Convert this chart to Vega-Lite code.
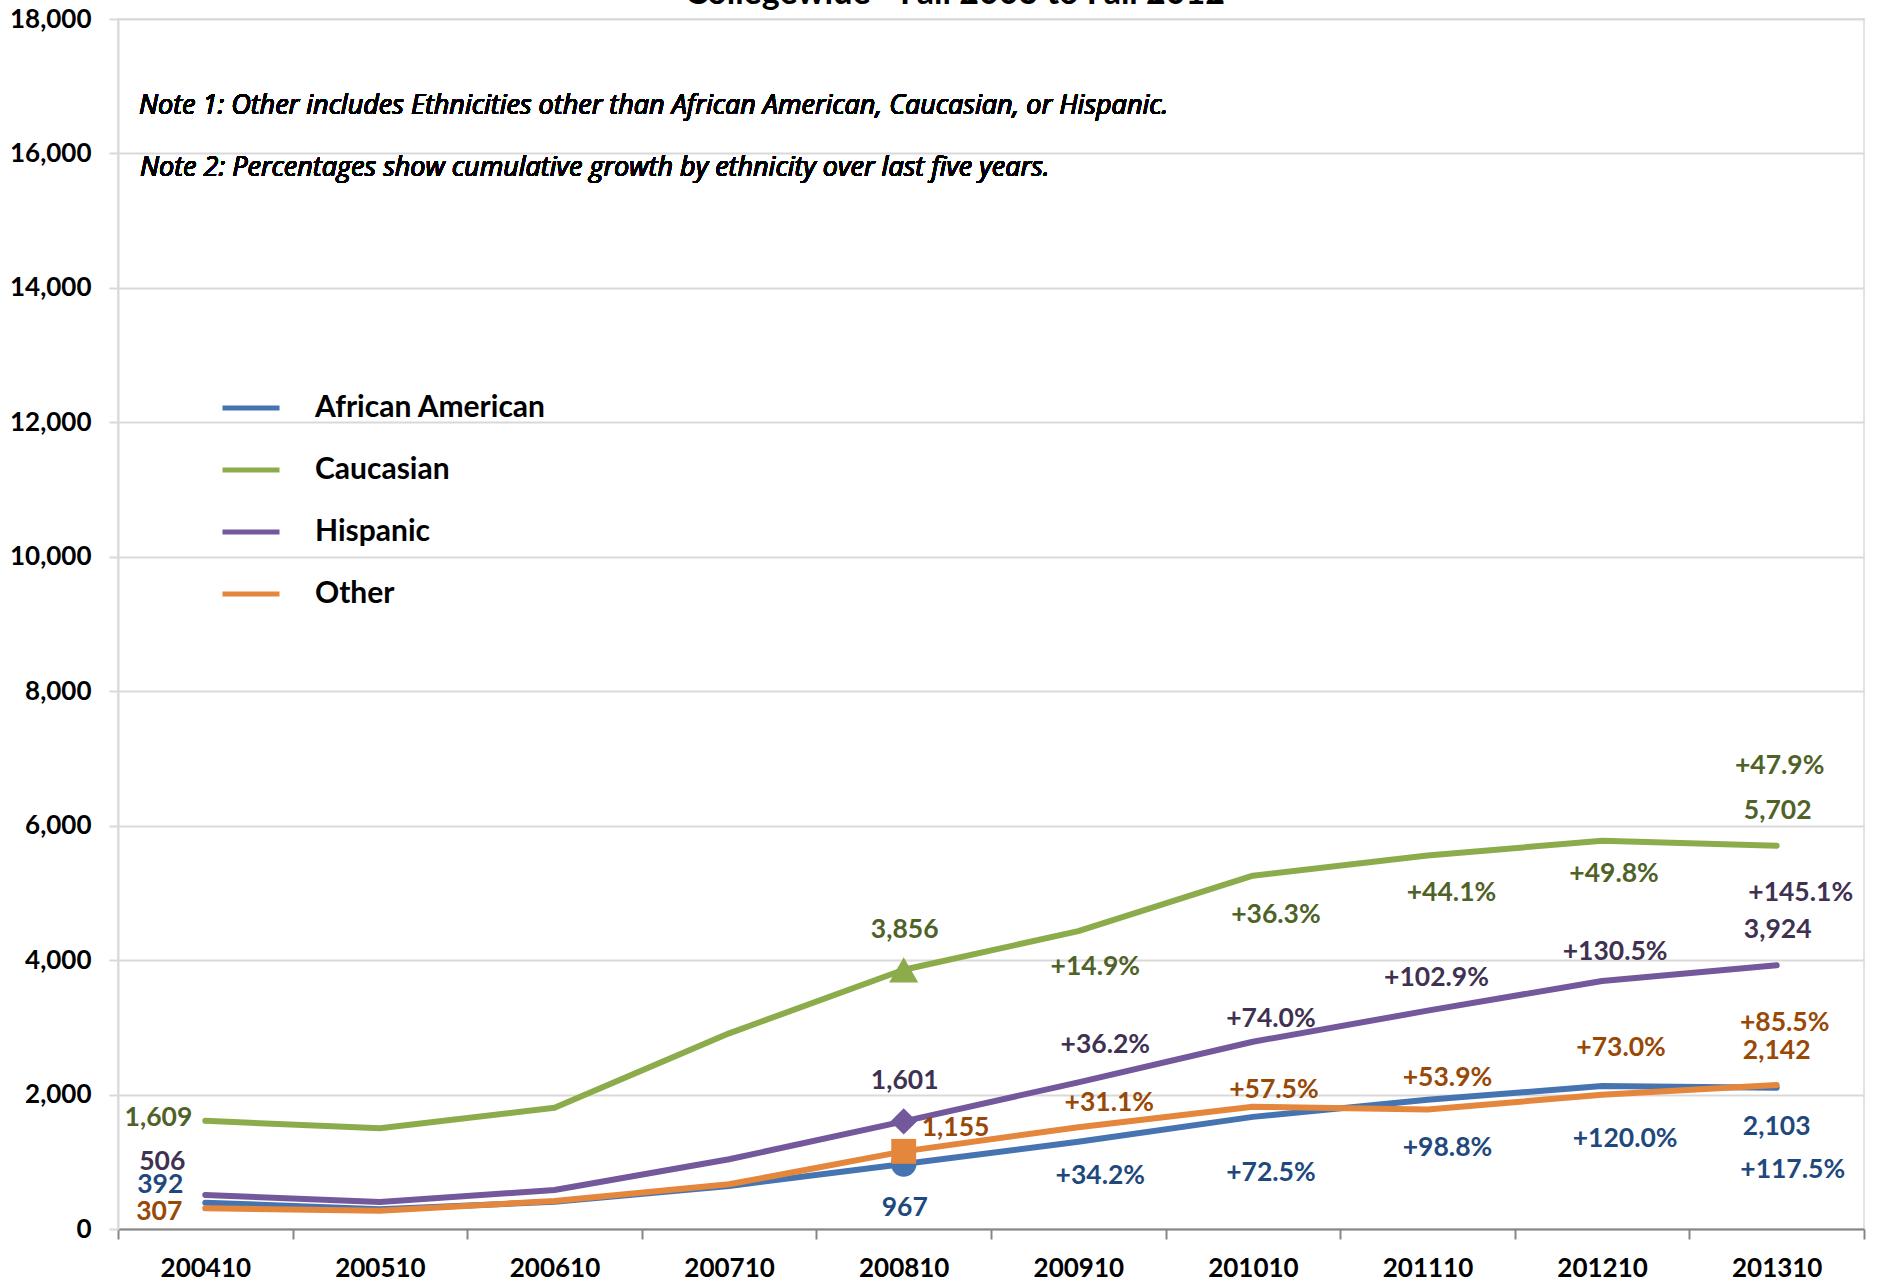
{
  "$schema": "https://vega.github.io/schema/vega-lite/v6.json",
  "width": 1746,
  "height": 1210,
  "autosize": {"type": "none"},
  "padding": {"left": 118, "top": 19, "right": 32, "bottom": 56},
  "background": "white",
  "title": {"text": "Collegewide - Fall 2003 to Fall 2012", "font": "Lato", "fontSize": 34, "fontWeight": "bold", "color": "black", "anchor": "middle", "frame": "group", "dx": -36, "dy": 32, "offset": 0, "baseline": "alphabetic"},
  "data": {"values": [
    {"period": "200410", "eth": "African American", "value": 392},
    {"period": "200510", "eth": "African American", "value": 293},
    {"period": "200610", "eth": "African American", "value": 406},
    {"period": "200710", "eth": "African American", "value": 640},
    {"period": "200810", "eth": "African American", "value": 967},
    {"period": "200910", "eth": "African American", "value": 1298, "pct": "+34.2%"},
    {"period": "201010", "eth": "African American", "value": 1668, "pct": "+72.5%"},
    {"period": "201110", "eth": "African American", "value": 1922, "pct": "+98.8%"},
    {"period": "201210", "eth": "African American", "value": 2127, "pct": "+120.0%"},
    {"period": "201310", "eth": "African American", "value": 2103, "pct": "+117.5%"},
    {"period": "200410", "eth": "Caucasian", "value": 1609},
    {"period": "200510", "eth": "Caucasian", "value": 1498},
    {"period": "200610", "eth": "Caucasian", "value": 1805},
    {"period": "200710", "eth": "Caucasian", "value": 2911},
    {"period": "200810", "eth": "Caucasian", "value": 3856},
    {"period": "200910", "eth": "Caucasian", "value": 4431, "pct": "+14.9%"},
    {"period": "201010", "eth": "Caucasian", "value": 5256, "pct": "+36.3%"},
    {"period": "201110", "eth": "Caucasian", "value": 5557, "pct": "+44.1%"},
    {"period": "201210", "eth": "Caucasian", "value": 5776, "pct": "+49.8%"},
    {"period": "201310", "eth": "Caucasian", "value": 5702, "pct": "+47.9%"},
    {"period": "200410", "eth": "Hispanic", "value": 506},
    {"period": "200510", "eth": "Hispanic", "value": 402},
    {"period": "200610", "eth": "Hispanic", "value": 580},
    {"period": "200710", "eth": "Hispanic", "value": 1037},
    {"period": "200810", "eth": "Hispanic", "value": 1601},
    {"period": "200910", "eth": "Hispanic", "value": 2181, "pct": "+36.2%"},
    {"period": "201010", "eth": "Hispanic", "value": 2786, "pct": "+74.0%"},
    {"period": "201110", "eth": "Hispanic", "value": 3248, "pct": "+102.9%"},
    {"period": "201210", "eth": "Hispanic", "value": 3690, "pct": "+130.5%"},
    {"period": "201310", "eth": "Hispanic", "value": 3924, "pct": "+145.1%"},
    {"period": "200410", "eth": "Other", "value": 307},
    {"period": "200510", "eth": "Other", "value": 273},
    {"period": "200610", "eth": "Other", "value": 416},
    {"period": "200710", "eth": "Other", "value": 665},
    {"period": "200810", "eth": "Other", "value": 1155},
    {"period": "200910", "eth": "Other", "value": 1514, "pct": "+31.1%"},
    {"period": "201010", "eth": "Other", "value": 1819, "pct": "+57.5%"},
    {"period": "201110", "eth": "Other", "value": 1778, "pct": "+53.9%"},
    {"period": "201210", "eth": "Other", "value": 1998, "pct": "+73.0%"},
    {"period": "201310", "eth": "Other", "value": 2142, "pct": "+85.5%"}
  ]},
  "encoding": {
    "x": {"field": "period", "type": "ordinal", "bandPosition": 0.5,
      "scale": {"type": "band", "paddingInner": 0, "paddingOuter": 0},
      "axis": {"title": null}},
    "y": {"field": "value", "type": "quantitative",
      "scale": {"domain": [0, 18000], "nice": false},
      "axis": {"title": null, "values": [0, 2000, 4000, 6000, 8000, 10000, 12000, 14000, 16000, 18000], "labelExpr": "format(datum.value, ',')"}}
  },
  "layer": [
    {"transform": [{"filter": "datum.period === '200810' && datum.eth === 'African American'"}], "mark": {"type": "point", "shape": "circle", "filled": true, "size": 650, "opacity": 1, "color": "#4674B1"}},
    {"mark": {"type": "line", "strokeWidth": 6, "strokeJoin": "round", "strokeCap": "round"},
     "encoding": {"color": {"field": "eth", "type": "nominal",
       "scale": {"domain": ["African American", "Caucasian", "Hispanic", "Other"], "range": ["#4674B1", "#8CAC4C", "#73589C", "#E4863C"]},
       "legend": {"orient": "none", "legendX": 102, "legendY": 358, "title": null, "symbolType": "stroke", "symbolStrokeWidth": 5, "symbolSize": 3249, "labelFont": "Lato", "labelFontSize": 30, "labelFontWeight": "bold", "labelColor": "black", "labelOffset": 33, "labelLimit": 0, "rowPadding": 16, "padding": 0}}}},
    {"transform": [{"filter": "datum.period === '200810' && datum.eth === 'Caucasian'"}], "mark": {"type": "point", "shape": "triangle-up", "filled": true, "size": 850, "opacity": 1, "color": "#8CAC4C"}},
    {"transform": [{"filter": "datum.period === '200810' && datum.eth === 'Hispanic'"}], "mark": {"type": "point", "shape": "diamond", "filled": true, "size": 700, "opacity": 1, "color": "#73589C"}},
    {"transform": [{"filter": "datum.period === '200810' && datum.eth === 'Other'"}], "mark": {"type": "point", "shape": "square", "filled": true, "size": 620, "opacity": 1, "color": "#E4863C"}},

    {"transform": [{"filter": "datum.eth === 'Caucasian' && datum.period === '200410'"}], "mark": {"type": "text", "align": "right", "dx": -13, "dy": -3, "color": "#4F6228"}, "encoding": {"text": {"field": "value", "type": "quantitative", "format": ","}}},
    {"transform": [{"filter": "datum.eth === 'Hispanic' && datum.period === '200410'"}], "mark": {"type": "text", "align": "right", "dx": -20, "dy": -33, "color": "#3F3151"}, "encoding": {"text": {"field": "value", "type": "quantitative", "format": ","}}},
    {"transform": [{"filter": "datum.eth === 'African American' && datum.period === '200410'"}], "mark": {"type": "text", "align": "right", "dx": -22, "dy": -18, "color": "#1F497D"}, "encoding": {"text": {"field": "value", "type": "quantitative", "format": ","}}},
    {"transform": [{"filter": "datum.eth === 'Other' && datum.period === '200410'"}], "mark": {"type": "text", "align": "right", "dx": -23, "dy": 4, "color": "#984807"}, "encoding": {"text": {"field": "value", "type": "quantitative", "format": ","}}},

    {"transform": [{"filter": "datum.eth === 'Caucasian' && datum.period === '200810'"}], "mark": {"type": "text", "dx": 1, "dy": -40, "color": "#4F6228"}, "encoding": {"text": {"field": "value", "type": "quantitative", "format": ","}}},
    {"transform": [{"filter": "datum.eth === 'Hispanic' && datum.period === '200810'"}], "mark": {"type": "text", "dx": 1, "dy": -40, "color": "#3F3151"}, "encoding": {"text": {"field": "value", "type": "quantitative", "format": ","}}},
    {"transform": [{"filter": "datum.eth === 'Other' && datum.period === '200810'"}], "mark": {"type": "text", "align": "left", "dx": 18, "dy": -23, "color": "#984807"}, "encoding": {"text": {"field": "value", "type": "quantitative", "format": ","}}},
    {"transform": [{"filter": "datum.eth === 'African American' && datum.period === '200810'"}], "mark": {"type": "text", "dx": 1, "dy": 44, "color": "#1F497D"}, "encoding": {"text": {"field": "value", "type": "quantitative", "format": ","}}},

    {"transform": [{"filter": "datum.eth === 'Caucasian' && datum.period === '200910'"}], "mark": {"type": "text", "dx": 17, "dy": 36, "color": "#4F6228"}, "encoding": {"text": {"field": "pct"}}},
    {"transform": [{"filter": "datum.eth === 'Caucasian' && datum.period === '201010'"}], "mark": {"type": "text", "dx": 23, "dy": 39, "color": "#4F6228"}, "encoding": {"text": {"field": "pct"}}},
    {"transform": [{"filter": "datum.eth === 'Caucasian' && datum.period === '201110'"}], "mark": {"type": "text", "dx": 24, "dy": 38, "color": "#4F6228"}, "encoding": {"text": {"field": "pct"}}},
    {"transform": [{"filter": "datum.eth === 'Caucasian' && datum.period === '201210'"}], "mark": {"type": "text", "dx": 12, "dy": 33, "color": "#4F6228"}, "encoding": {"text": {"field": "pct"}}},
    {"transform": [{"filter": "datum.eth === 'Caucasian' && datum.period === '201310'"}], "mark": {"type": "text", "dx": 1, "dy": -35, "color": "#4F6228"}, "encoding": {"text": {"field": "value", "type": "quantitative", "format": ","}}},
    {"transform": [{"filter": "datum.eth === 'Caucasian' && datum.period === '201310'"}], "mark": {"type": "text", "dx": 3, "dy": -80, "color": "#4F6228"}, "encoding": {"text": {"field": "pct"}}},

    {"transform": [{"filter": "datum.eth === 'Hispanic' && datum.period === '200910'"}], "mark": {"type": "text", "dx": 27, "dy": -37, "color": "#3F3151"}, "encoding": {"text": {"field": "pct"}}},
    {"transform": [{"filter": "datum.eth === 'Hispanic' && datum.period === '201010'"}], "mark": {"type": "text", "dx": 18, "dy": -23, "color": "#3F3151"}, "encoding": {"text": {"field": "pct"}}},
    {"transform": [{"filter": "datum.eth === 'Hispanic' && datum.period === '201110'"}], "mark": {"type": "text", "dx": 9, "dy": -33, "color": "#3F3151"}, "encoding": {"text": {"field": "pct"}}},
    {"transform": [{"filter": "datum.eth === 'Hispanic' && datum.period === '201210'"}], "mark": {"type": "text", "dx": 13, "dy": -29, "color": "#3F3151"}, "encoding": {"text": {"field": "pct"}}},
    {"transform": [{"filter": "datum.eth === 'Hispanic' && datum.period === '201310'"}], "mark": {"type": "text", "dx": 1, "dy": -35, "color": "#3F3151"}, "encoding": {"text": {"field": "value", "type": "quantitative", "format": ","}}},
    {"transform": [{"filter": "datum.eth === 'Hispanic' && datum.period === '201310'"}], "mark": {"type": "text", "dx": 24, "dy": -72, "color": "#3F3151"}, "encoding": {"text": {"field": "pct"}}},

    {"transform": [{"filter": "datum.eth === 'Other' && datum.period === '200910'"}], "mark": {"type": "text", "dx": 31, "dy": -24, "color": "#984807"}, "encoding": {"text": {"field": "pct"}}},
    {"transform": [{"filter": "datum.eth === 'Other' && datum.period === '201010'"}], "mark": {"type": "text", "dx": 21, "dy": -17, "color": "#984807"}, "encoding": {"text": {"field": "pct"}}},
    {"transform": [{"filter": "datum.eth === 'Other' && datum.period === '201110'"}], "mark": {"type": "text", "dx": 20, "dy": -31, "color": "#984807"}, "encoding": {"text": {"field": "pct"}}},
    {"transform": [{"filter": "datum.eth === 'Other' && datum.period === '201210'"}], "mark": {"type": "text", "dx": 19, "dy": -47, "color": "#984807"}, "encoding": {"text": {"field": "pct"}}},
    {"transform": [{"filter": "datum.eth === 'Other' && datum.period === '201310'"}], "mark": {"type": "text", "dx": 0, "dy": -34, "color": "#984807"}, "encoding": {"text": {"field": "value", "type": "quantitative", "format": ","}}},
    {"transform": [{"filter": "datum.eth === 'Other' && datum.period === '201310'"}], "mark": {"type": "text", "dx": 8, "dy": -62, "color": "#984807"}, "encoding": {"text": {"field": "pct"}}},

    {"transform": [{"filter": "datum.eth === 'African American' && datum.period === '200910'"}], "mark": {"type": "text", "dx": 22, "dy": 34, "color": "#1F497D"}, "encoding": {"text": {"field": "pct"}}},
    {"transform": [{"filter": "datum.eth === 'African American' && datum.period === '201010'"}], "mark": {"type": "text", "dx": 18, "dy": 56, "color": "#1F497D"}, "encoding": {"text": {"field": "pct"}}},
    {"transform": [{"filter": "datum.eth === 'African American' && datum.period === '201110'"}], "mark": {"type": "text", "dx": 20, "dy": 48, "color": "#1F497D"}, "encoding": {"text": {"field": "pct"}}},
    {"transform": [{"filter": "datum.eth === 'African American' && datum.period === '201210'"}], "mark": {"type": "text", "dx": 23, "dy": 53, "color": "#1F497D"}, "encoding": {"text": {"field": "pct"}}},
    {"transform": [{"filter": "datum.eth === 'African American' && datum.period === '201310'"}], "mark": {"type": "text", "dx": 0, "dy": 39, "color": "#1F497D"}, "encoding": {"text": {"field": "value", "type": "quantitative", "format": ","}}},
    {"transform": [{"filter": "datum.eth === 'African American' && datum.period === '201310'"}], "mark": {"type": "text", "dx": 16, "dy": 82, "color": "#1F497D"}, "encoding": {"text": {"field": "pct"}}},

    {"mark": {"type": "text", "align": "left", "baseline": "middle", "dx": 21, "font": "Open Sans", "fontStyle": "italic", "fontWeight": "normal", "fontSize": 27, "color": "black"},
     "encoding": {"x": {"datum": "200410", "type": "ordinal", "bandPosition": 0, "axis": {"title": null}}, "y": {"datum": 16700, "type": "quantitative", "axis": {"title": null, "values": [0, 2000, 4000, 6000, 8000, 10000, 12000, 14000, 16000, 18000], "labelExpr": "format(datum.value, ',')"}}, "text": {"value": "Note 1: Other includes Ethnicities other than African American, Caucasian, or Hispanic."}}},
    {"mark": {"type": "text", "align": "left", "baseline": "middle", "dx": 22, "font": "Open Sans", "fontStyle": "italic", "fontWeight": "normal", "fontSize": 27, "color": "black"},
     "encoding": {"x": {"datum": "200410", "type": "ordinal", "bandPosition": 0, "axis": {"title": null}}, "y": {"datum": 15780, "type": "quantitative", "axis": {"title": null, "values": [0, 2000, 4000, 6000, 8000, 10000, 12000, 14000, 16000, 18000], "labelExpr": "format(datum.value, ',')"}}, "text": {"value": "Note 2: Percentages show cumulative growth by ethnicity over last five years."}}}
  ],
  "config": {
    "view": {"stroke": "#E3E3E3", "strokeWidth": 2},
    "text": {"font": "Lato", "fontWeight": "bold", "fontSize": 26.5},
    "axisX": {"labelAngle": 0, "tickBand": "extent", "domainColor": "#868686", "domainWidth": 2, "tickColor": "#868686", "tickWidth": 2, "tickSize": 10, "labelPadding": 16, "labelFont": "Lato", "labelFontSize": 26, "labelFontWeight": "bold", "labelColor": "black", "grid": false},
    "axisY": {"labelFont": "Lato", "labelFontSize": 26, "labelFontWeight": "bold", "labelColor": "black", "labelPadding": 18, "tickSize": 9, "tickColor": "#D9D9D9", "tickWidth": 2, "domainColor": "#D9D9D9", "domainWidth": 2, "gridColor": "#D9D9D9", "gridWidth": 2}
  }
}
